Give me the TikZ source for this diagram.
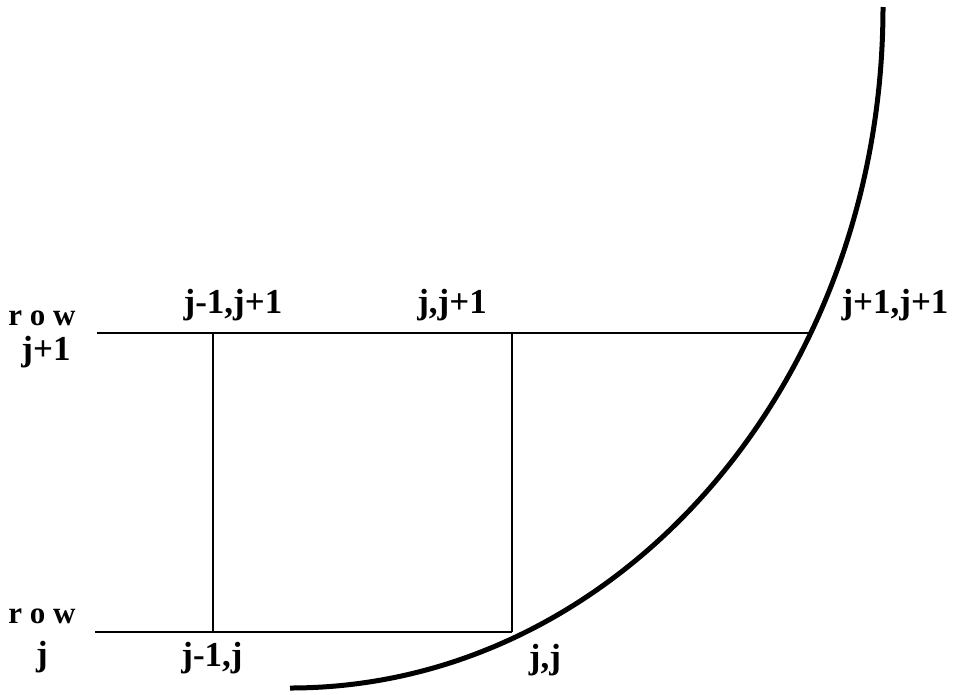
\documentclass[tikz,border=0pt]{standalone}
\usepackage{fontspec}
\setmainfont{Liberation Serif}
\begin{document}
\begin{tikzpicture}[x=1pt,y=-1pt,
  lbl/.style={anchor=base,inner sep=0pt,font=\fontsize{35}{40}\selectfont\bfseries},
  rowlbl/.style={anchor=base,inner sep=0pt,font=\fontsize{31}{36}\selectfont\bfseries},
  gridline/.style={line width=2.4pt},
  curveline/.style={line width=5pt}]
\useasboundingbox (0,0) rectangle (955,694);
% grid points
\coordinate (tl) at (97,333);
\coordinate (a1) at (213,333);
\coordinate (b1) at (512,333);
\coordinate (c1) at (810.6,333);
\coordinate (bl) at (95,632);
\coordinate (a0) at (213,632);
\coordinate (b0) at (512,632);
\coordinate (ctop) at (883,7);
% lines
\draw[gridline] (tl) -- (c1);
\draw[gridline] (bl) -- (b0);
\draw[gridline] (a1) -- (a0);
\draw[gridline] (b1) -- (b0);
% curve
\draw[curveline] (ctop) arc[start angle=0,end angle=90,x radius=593,y radius=681];
% labels
\node[rowlbl] (rowtop) at (42,325) {r o w};
\node[lbl] (jp1) at (46,360) {j+1};
\node[lbl] (ljm1jp1) at (233,313) {j-1,j+1};
\node[lbl] (ljjp1) at (452,313) {j,j+1};
\node[lbl] (ljp1jp1) at (895,313) {j+1,j+1};
\node[rowlbl] (rowbot) at (42,623) {r o w};
\node[lbl] (jrow) at (42,665) {j};
\node[lbl] (ljm1j) at (212,666) {j-1,j};
\node[lbl] (ljj) at (545,668) {j,j};
\end{tikzpicture}
\end{document}
